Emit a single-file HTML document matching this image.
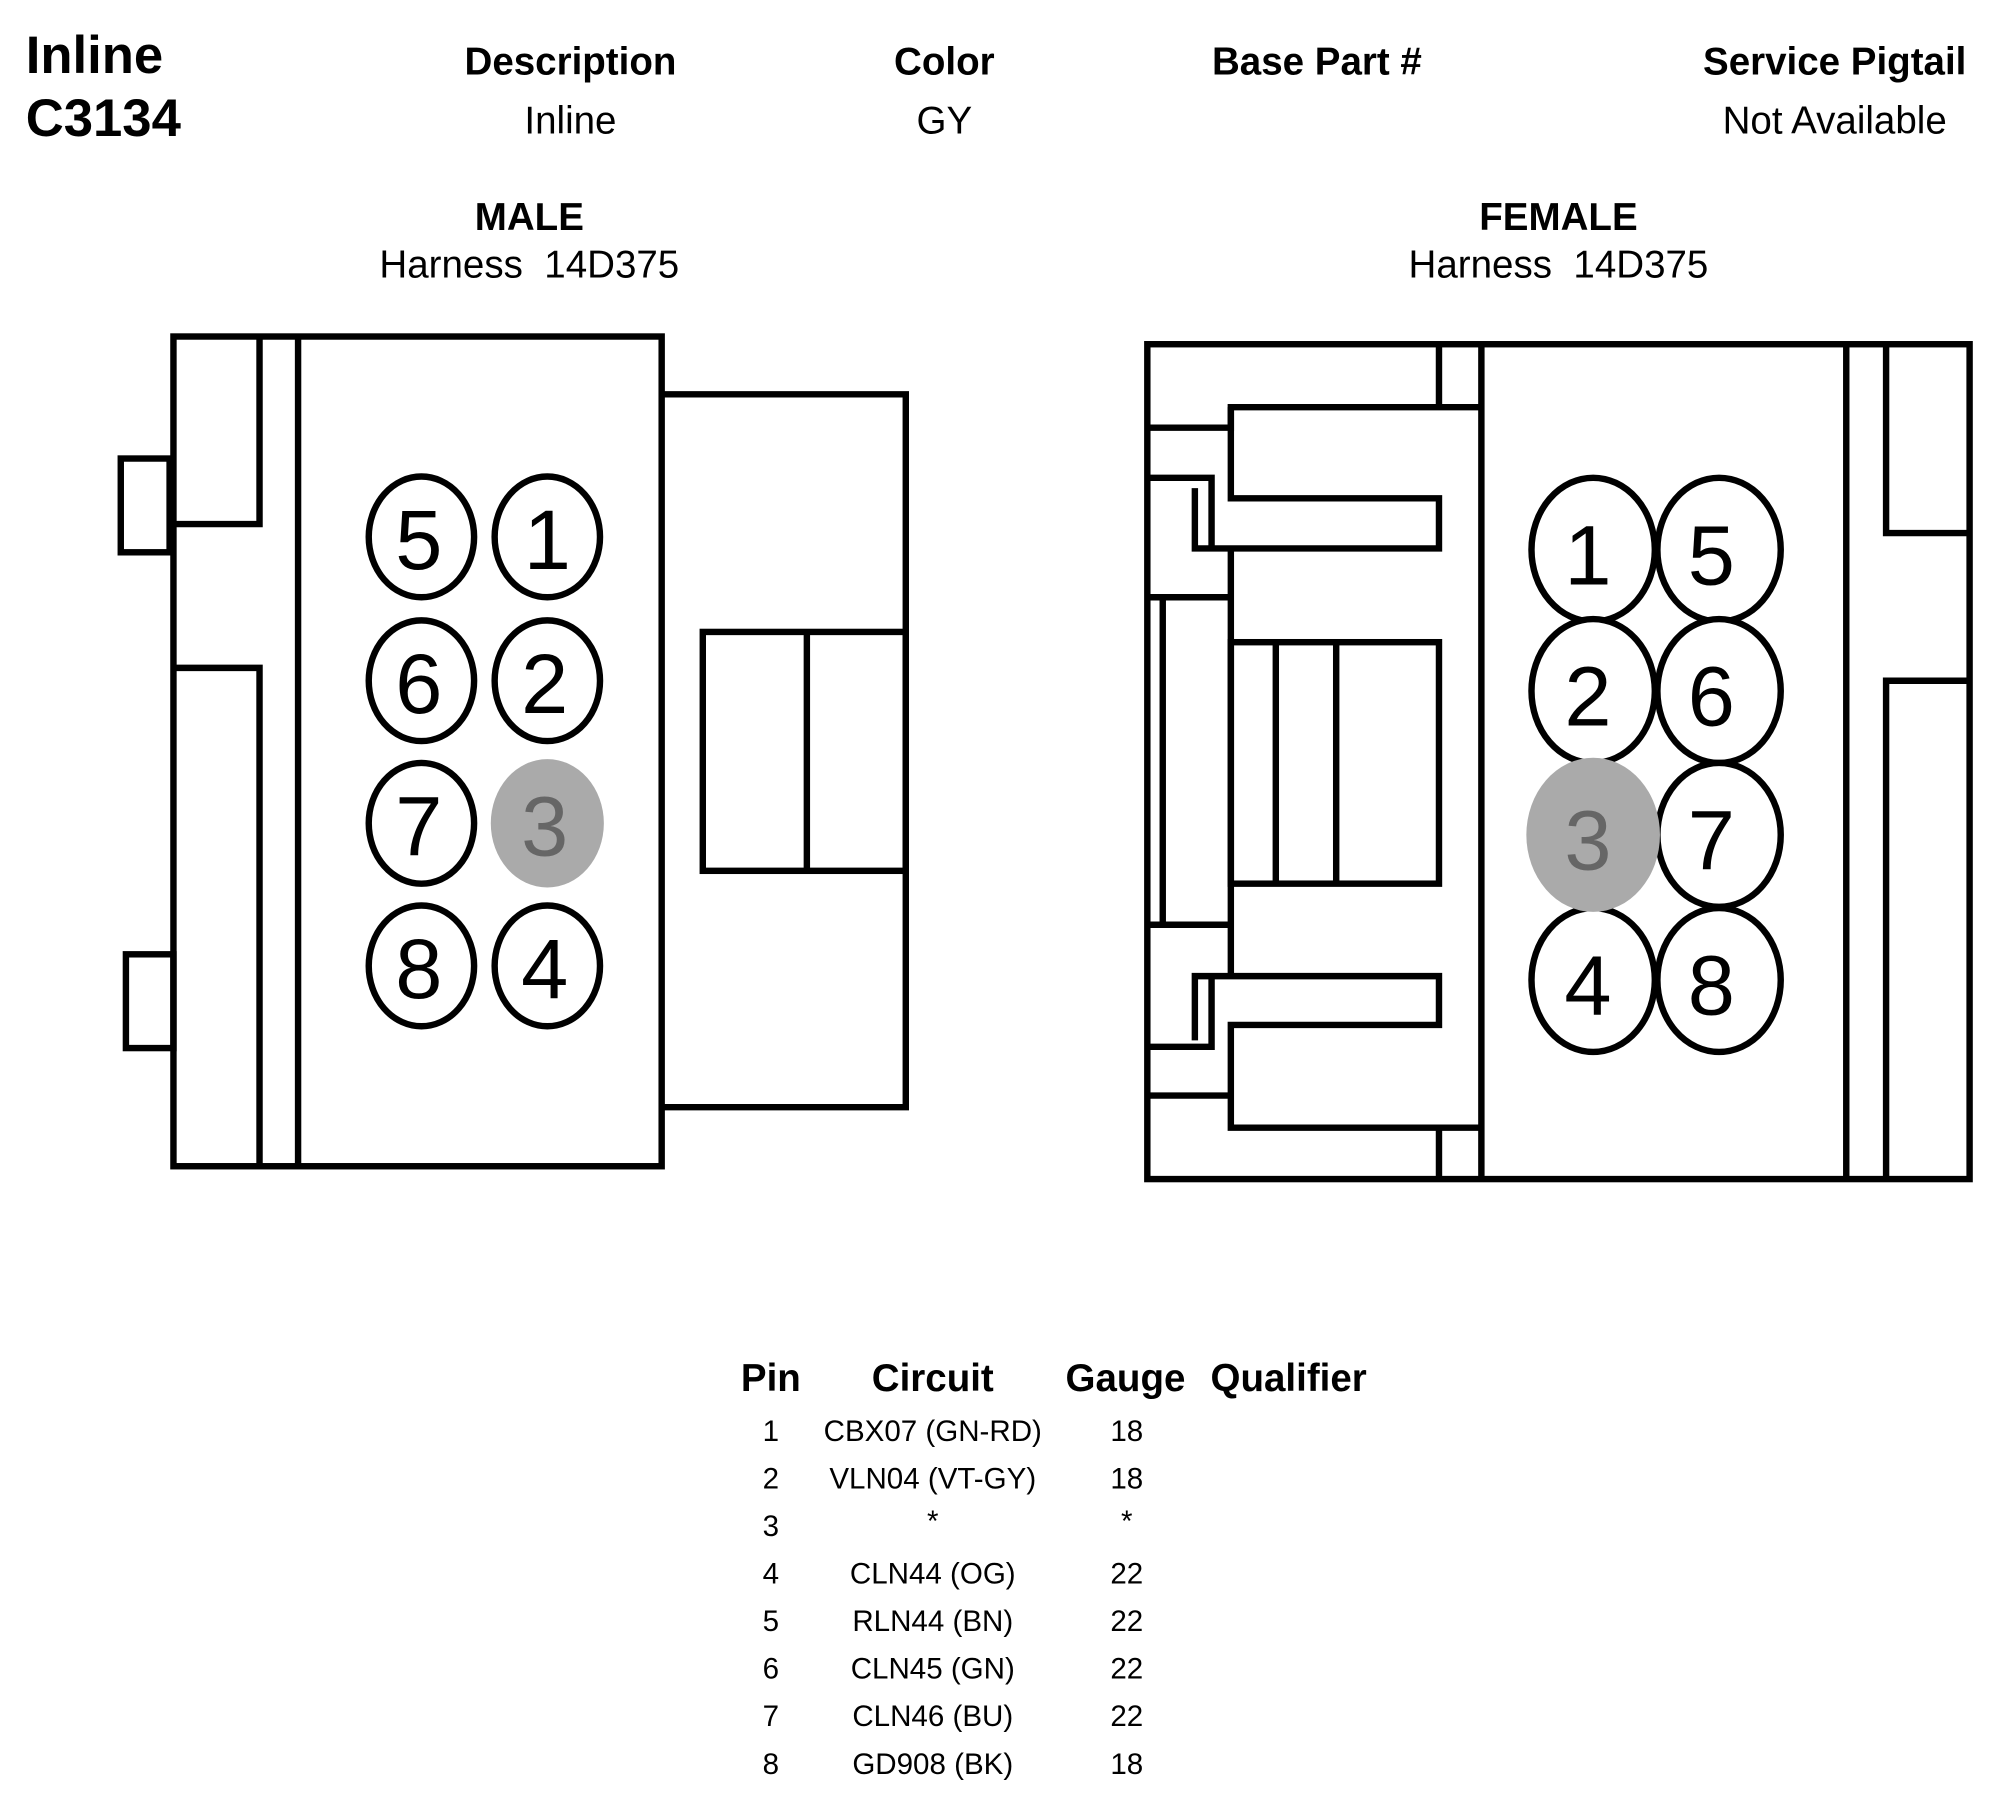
<!DOCTYPE html>
<html><head><meta charset="utf-8"><style>
html,body{margin:0;padding:0;background:#fff;}
svg{display:block;}
text{font-family:"Liberation Sans",Arial,sans-serif;}
.b{font-weight:bold;}
</style></head><body>
<svg width="2012" height="1820" viewBox="0 0 1566 1417" preserveAspectRatio="none" xmlns="http://www.w3.org/2000/svg">
<rect width="1566" height="1417" fill="#fff"/>
<text x="20" y="57" class="b" font-size="41">Inline</text>
<text x="20" y="106" class="b" font-size="41">C3134</text>
<g font-size="30" text-anchor="middle">
<text x="444" y="58" class="b">Description</text>
<text x="444" y="104">Inline</text>
<text x="735" y="58" class="b">Color</text>
<text x="735" y="104">GY</text>
<text x="1025" y="58" class="b">Base Part #</text>
<text x="1428" y="58" class="b">Service Pigtail</text>
<text x="1428" y="104">Not Available</text>
<text x="412" y="179" class="b">MALE</text>
<text x="412" y="216">Harness&#160; 14D375</text>
<text x="1213" y="179" class="b">FEMALE</text>
<text x="1213" y="216">Harness&#160; 14D375</text>
</g>
<g fill="none" stroke="#000" stroke-width="5">
<rect x="135" y="262" width="380" height="646"/>
<polyline points="135,408 202,408 202,262"/>
<polyline points="135,520 202,520 202,908"/>
<line x1="232" y1="262" x2="232" y2="908"/>
<rect x="94" y="357" width="38" height="73"/>
<rect x="98" y="743" width="37" height="73"/>
<polyline points="515,307 705,307 705,862 515,862"/>
<rect x="547" y="492" width="158" height="186"/>
<line x1="628" y1="492" x2="628" y2="678"/>
</g>
<g stroke="#000" stroke-width="5" fill="#fff">
<ellipse cx="328" cy="418" rx="41" ry="47"/>
<ellipse cx="426" cy="418" rx="41" ry="47"/>
<ellipse cx="328" cy="530" rx="41" ry="47"/>
<ellipse cx="426" cy="530" rx="41" ry="47"/>
<ellipse cx="328" cy="641" rx="41" ry="47"/>
<ellipse cx="328" cy="752" rx="41" ry="47"/>
<ellipse cx="426" cy="752" rx="41" ry="47"/>
</g>
<ellipse cx="426" cy="641" rx="44" ry="50" fill="#aaa"/>
<g font-size="66" text-anchor="middle">
<text x="326" y="443" fill="#000">5</text><text x="426" y="443" fill="#000">1</text>
<text x="326" y="555" fill="#000">6</text><text x="424" y="555" fill="#000">2</text>
<text x="326" y="666" fill="#000">7</text><text x="424" y="666" style="fill:#666">3</text>
<text x="326" y="777" fill="#000">8</text><text x="424" y="777" fill="#000">4</text>
</g>
<g fill="none" stroke="#000" stroke-width="5">
<rect x="893" y="268" width="640" height="650"/>
<line x1="1153" y1="268" x2="1153" y2="918"/>
<line x1="1437" y1="268" x2="1437" y2="918"/>
<line x1="1120" y1="268" x2="1120" y2="317"/>
<line x1="1120" y1="878" x2="1120" y2="918"/>
<polyline points="1468,268 1468,415 1533,415"/>
<polyline points="1468,918 1468,530 1533,530"/>
<polyline points="893,333 958,333 958,317 1153,317"/>
<polyline points="958,317 958,388 1120,388 1120,427 930,427 930,380"/>
<polyline points="893,372 943,372 943,427"/>
<line x1="958" y1="427" x2="958" y2="760"/>
<polyline points="893,465 958,465"/>
<polyline points="893,720 958,720"/>
<line x1="905" y1="465" x2="905" y2="720"/>
<rect x="958" y="500" width="162" height="188"/>
<line x1="993" y1="500" x2="993" y2="688"/>
<line x1="1040" y1="500" x2="1040" y2="688"/>
<polyline points="930,810 930,760 1120,760 1120,798 958,798 958,878 1153,878"/>
<polyline points="893,815 943,815 943,760"/>
<polyline points="893,853 958,853"/>
</g>
<g stroke="#000" stroke-width="5" fill="#fff">
<ellipse cx="1240" cy="428" rx="48" ry="56"/>
<ellipse cx="1338" cy="428" rx="48" ry="56"/>
<ellipse cx="1240" cy="538" rx="48" ry="56"/>
<ellipse cx="1338" cy="538" rx="48" ry="56"/>
<ellipse cx="1338" cy="650" rx="48" ry="56"/>
<ellipse cx="1240" cy="763" rx="48" ry="56"/>
<ellipse cx="1338" cy="763" rx="48" ry="56"/>
</g>
<ellipse cx="1240" cy="650" rx="52" ry="60" fill="#aaa"/>
<g font-size="66" text-anchor="middle">
<text x="1236" y="455" fill="#000">1</text><text x="1332" y="455" fill="#000">5</text>
<text x="1236" y="565" fill="#000">2</text><text x="1332" y="565" fill="#000">6</text>
<text x="1236" y="677" style="fill:#666">3</text><text x="1332" y="677" fill="#000">7</text>
<text x="1236" y="790" fill="#000">4</text><text x="1332" y="790" fill="#000">8</text>
</g>
<g font-size="30" text-anchor="middle">
<text x="600" y="1083" class="b">Pin</text>
<text x="726" y="1083" class="b">Circuit</text>
<text x="876" y="1083" class="b">Gauge</text>
<text x="1003" y="1083" class="b">Qualifier</text>
</g>
<g font-size="23" text-anchor="middle">
<text x="600" y="1122">1</text><text x="726" y="1122">CBX07 (GN-RD)</text><text x="877" y="1122">18</text>
<text x="600" y="1159">2</text><text x="726" y="1159">VLN04 (VT-GY)</text><text x="877" y="1159">18</text>
<text x="600" y="1196">3</text><text x="726" y="1192">*</text><text x="877" y="1192">*</text>
<text x="600" y="1233">4</text><text x="726" y="1233">CLN44 (OG)</text><text x="877" y="1233">22</text>
<text x="600" y="1270">5</text><text x="726" y="1270">RLN44 (BN)</text><text x="877" y="1270">22</text>
<text x="600" y="1307">6</text><text x="726" y="1307">CLN45 (GN)</text><text x="877" y="1307">22</text>
<text x="600" y="1344">7</text><text x="726" y="1344">CLN46 (BU)</text><text x="877" y="1344">22</text>
<text x="600" y="1381">8</text><text x="726" y="1381">GD908 (BK)</text><text x="877" y="1381">18</text>
</g>
</svg>
</body></html>
